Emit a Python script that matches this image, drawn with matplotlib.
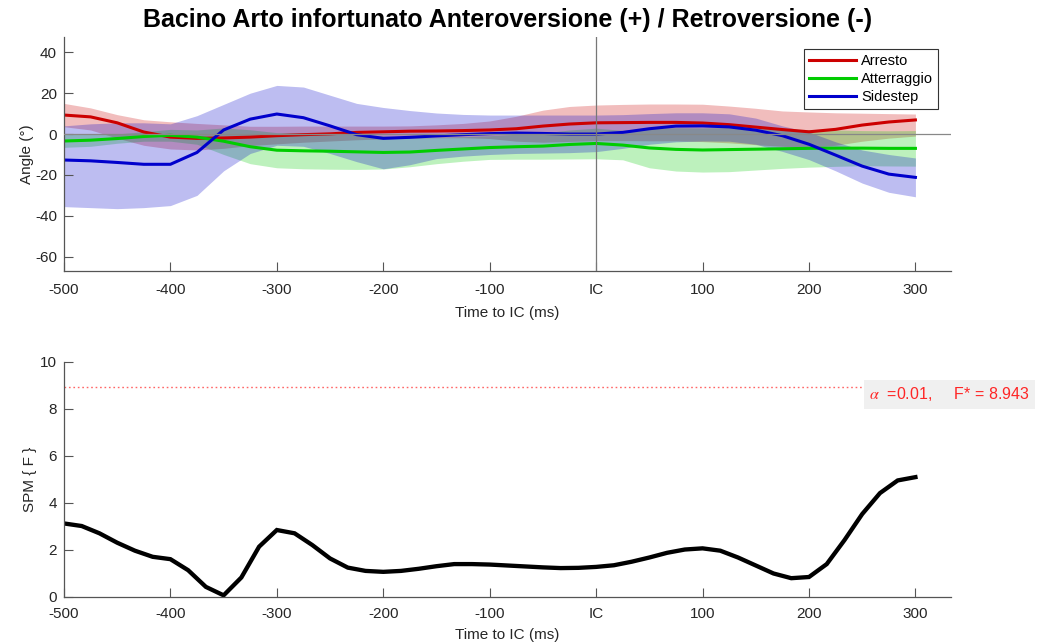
import matplotlib
matplotlib.use("Agg")
import matplotlib.pyplot as plt
import numpy as np

plt.rcParams["font.family"] = ["Liberation Sans", "DejaVu Sans"]
plt.rcParams["mathtext.fontset"] = "stix"
plt.rcParams["axes.unicode_minus"] = False

# time to initial contact (ms)
t = [-500, -475, -450, -425, -400, -375, -350, -325, -300, -275, -250,
     -225, -200, -175, -150, -125, -100, -75, -50, -25, 0, 25, 50, 75,
     100, 125, 150, 175, 200, 225, 250, 275, 300]

# pelvis tilt, mean and band limits (deg)
arresto_mean = [9.3, 8.4, 5.5, 1.0, -1.5, -2.1, -1.9, -1.5, -0.8, -0.3, 0.1,
                0.8, 1.1, 1.4, 1.5, 1.7, 2.0, 2.6, 3.9, 4.9, 5.5, 5.6, 5.7,
                5.7, 5.4, 4.6, 3.4, 2.2, 1.1, 2.3, 4.4, 5.9, 6.9]
arresto_hi = [15.0, 12.8, 9.5, 7.0, 6.0, 5.2, 4.5, 3.8, 3.8, 3.9, 3.9, 3.9,
              3.9, 4.0, 4.5, 5.2, 6.4, 8.7, 11.7, 13.5, 14.2, 14.5, 14.7,
              14.7, 14.6, 13.7, 12.6, 11.3, 10.8, 10.4, 10.2, 10.0, 9.8]
arresto_lo = [3.6, 2.0, -2.0, -5.5, -7.3, -7.8, -7.0, -5.6, -4.8, -4.0, -3.4,
              -2.8, -2.4, -2.0, -1.8, -1.8, -2.2, -3.5, -4.0, -3.6, -3.2,
              -3.2, -3.3, -3.3, -3.7, -4.3, -5.2, -6.0, -6.5, -5.5, -3.5,
              -2.0, -1.0]

atterraggio_mean = [-3.4, -3.0, -2.2, -1.2, -0.6, -1.5, -3.5, -6.2, -7.9,
                    -8.2, -8.4, -8.7, -9.0, -8.8, -8.0, -7.3, -6.6, -6.2,
                    -5.9, -5.1, -4.6, -5.4, -6.8, -7.5, -7.8, -7.6, -7.4,
                    -7.2, -7.0, -6.9, -6.9, -7.0, -7.0]
atterraggio_hi = [-0.3, 0.0, 0.1, 1.1, 2.3, 2.0, 3.0, 2.1, 0.7, 0.6, 0.4,
                  -0.1, -0.9, -1.6, -1.5, -1.3, -0.8, -0.1, 0.5, 2.0, 2.9,
                  1.8, 2.9, 3.1, 3.0, 3.2, 2.8, 2.4, 2.2, 2.0, 1.7, 1.6, 1.7]
atterraggio_lo = [-6.5, -6.0, -4.5, -3.5, -3.5, -5.0, -10.0, -14.5, -16.5,
                  -17.0, -17.2, -17.3, -17.1, -16.0, -14.5, -13.3, -12.4,
                  -12.3, -12.3, -12.2, -12.1, -12.6, -16.5, -18.1, -18.6,
                  -18.4, -17.6, -16.8, -16.2, -15.8, -15.5, -15.6, -15.7]

sidestep_mean = [-12.7, -13.1, -13.9, -14.8, -14.8, -9.0, 2.0, 7.3, 9.8, 8.0,
                 4.0, -0.3, -2.1, -1.6, -0.9, -0.3, 0.2, 0.5, 0.3, 0.0, 0.0,
                 0.8, 2.6, 3.9, 4.0, 3.5, 1.9, -0.8, -5.0, -10.3, -15.7,
                 -19.6, -21.2]
sidestep_hi = [4.0, 5.0, 5.5, 5.5, 5.0, 9.0, 14.5, 20.0, 23.8, 23.0, 19.0,
               15.0, 13.0, 11.5, 10.3, 9.6, 9.3, 9.3, 9.3, 9.3, 9.3, 9.5,
               10.0, 10.4, 10.4, 9.9, 7.8, 4.0, 1.0, -3.8, -7.8, -10.0, -11.7]
sidestep_lo = [-35.5, -36.0, -36.5, -36.0, -35.0, -30.0, -18.0, -9.5, -5.5,
               -6.0, -9.5, -13.5, -17.0, -15.0, -12.0, -10.8, -10.0, -9.5,
               -9.3, -9.1, -8.6, -7.0, -5.0, -3.8, -3.4, -3.5, -5.0, -8.5,
               -12.5, -18.0, -24.0, -28.5, -30.7]

# SPM{F} trajectory, sampled every 1/60 s
t_spm = np.linspace(-500, 300, 49)
spm_f = [3.13, 3.02, 2.71, 2.31, 1.97, 1.71, 1.61, 1.14, 0.43, 0.07, 0.83,
         2.14, 2.85, 2.71, 2.21, 1.64, 1.25, 1.11, 1.07, 1.11, 1.20, 1.31,
         1.40, 1.40, 1.38, 1.34, 1.30, 1.26, 1.23, 1.24, 1.28, 1.35, 1.50,
         1.68, 1.88, 2.02, 2.07, 1.97, 1.68, 1.34, 1.00, 0.80, 0.85, 1.40,
         2.42, 3.53, 4.42, 4.96, 5.10]
alpha_level = 0.01
f_crit = 8.943

xtick_pos = [-500, -400, -300, -200, -100, 0, 100, 200, 300]
xtick_lab = ["-500", "-400", "-300", "-200", "-100", "IC", "100", "200", "300"]

series = [
    ("Arresto", arresto_mean, arresto_lo, arresto_hi, (0.8, 0.0, 0.0)),
    ("Atterraggio", atterraggio_mean, atterraggio_lo, atterraggio_hi, (0.0, 0.8, 0.0)),
    ("Sidestep", sidestep_mean, sidestep_lo, sidestep_hi, (0.0, 0.0, 0.8)),
]

txt = "#262626"
spine = "#555555"


def style_axes(ax, xpad, xlabelpad):
    for s in ["top", "right"]:
        ax.spines[s].set_visible(False)
    for s in ["left", "bottom"]:
        ax.spines[s].set_color(spine)
        ax.spines[s].set_linewidth(0.9)
    ax.tick_params(direction="in", length=6.5, width=0.8, color=spine,
                   labelcolor=txt, labelsize=11, pad=5)
    ax.tick_params(axis="x", pad=xpad)
    ax.set_xlim(-500, 333.5)
    ax.set_xticks(xtick_pos)
    ax.set_xticklabels(xtick_lab)
    ax.set_xlabel("Time to IC (ms)", fontsize=11, color=txt,
                  labelpad=xlabelpad)


fig = plt.figure(figsize=(10.4, 6.44), dpi=100)
ax1 = fig.add_axes([0.0615, 0.5792, 0.853, 0.3634])
ax2 = fig.add_axes([0.0615, 0.0730, 0.853, 0.3649])

# top: mean curves with shaded bands
handles = []
for name, m, lo, hi, c in series:
    ln, = ax1.plot(t, m, color=c, lw=2.2, label=name)
    ax1.fill_between(t, lo, hi, color=c, alpha=0.26, lw=0)
    handles.append(ln)
ax1.axhline(0, color="#888888", lw=0.9, zorder=5)
ax1.axvline(0, color="#777777", lw=0.9, zorder=5)
style_axes(ax1, xpad=8.5, xlabelpad=6.5)
ax1.set_ylim(-67, 47.5)
ax1.set_yticks(np.arange(-60, 41, 20))
ax1.set_ylabel("Angle (°)", fontsize=11, color=txt, labelpad=1)
leg = ax1.legend(handles=handles, loc="upper right",
                 bbox_to_anchor=(0.9853, 0.9487), borderaxespad=0,
                 fontsize=10.5, fancybox=False, framealpha=1,
                 edgecolor="#333333", handlelength=3.2, handletextpad=0.35,
                 labelspacing=0.28, borderpad=0.35)
leg.get_frame().set_linewidth(0.8)

ax1.set_title("Bacino Arto infortunato Anteroversione (+) / Retroversione (-)",
              fontsize=18, fontweight="bold", color="black", pad=7)

# bottom: SPM{F} with critical threshold
ax2.plot(t_spm, spm_f, color="black", lw=3.1, solid_joinstyle="miter")
ax2.plot([-500, 300], [f_crit, f_crit], color=(1.0, 0.4, 0.4), lw=1.0,
         ls=(0, (1.2, 2)))
ax2.axhline(0, color="black", lw=0.6, ls=(0, (1, 1)), zorder=5)
style_axes(ax2, xpad=7.2, xlabelpad=5)
ax2.set_ylim(0, 10)
ax2.set_yticks(np.arange(0, 11, 2))
ax2.set_ylabel("SPM { F }", fontsize=11, color=txt, labelpad=2.5)
ax2.text(256.5, f_crit - 0.32,
         r"$\alpha$" + f"  ={alpha_level:g},     F* = {f_crit:.3f}",
         color=(1.0, 0.15, 0.15), fontsize=11.5, va="center", ha="left",
         clip_on=False,
         bbox=dict(boxstyle="square,pad=0.35", facecolor="#f0f0f0",
                   edgecolor="none"))

fig.savefig("out.png", dpi=100)
